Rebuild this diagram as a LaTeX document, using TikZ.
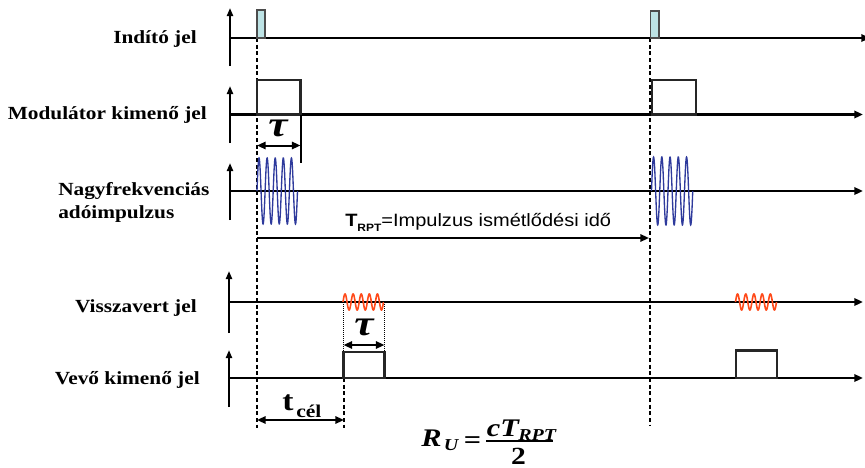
\documentclass[tikz,border=0pt]{standalone}
\usepackage{fontspec}
\setmainfont{Liberation Serif}
\newfontfamily\lblfont[FakeStretch=1.15]{Liberation Serif}
\newfontfamily\ssfont[FakeStretch=1.12]{Liberation Sans}
\newfontfamily\mfont[FakeStretch=1.2]{Liberation Serif}
\usetikzlibrary{arrows.meta}
\definecolor{pulsecyan}{HTML}{BDE3E5}
\definecolor{wblue}{HTML}{2E3A9C}
\definecolor{wred}{HTML}{FF4A1A}
\begin{document}
\begin{tikzpicture}[x=0.75pt,y=-0.75pt,
  vax/.style={line width=1.8pt,-{Triangle[length=6pt,width=4.5pt]}},
  hax/.style={line width=1.7pt,-{Triangle[length=6.5pt,width=5.5pt]}},
  dimarrow/.style={line width=1.5pt,{Triangle[length=6.5pt,width=5.5pt]}-{Triangle[length=6.5pt,width=5.5pt]}},
  onearrow/.style={line width=1.5pt,-{Triangle[length=6.5pt,width=5.5pt]}},
  pulsebox/.style={draw=black!70,fill=pulsecyan,line width=1.1pt},
  sigbox/.style={draw=black!85,line width=1.6pt},
  dashline/.style={line width=1.3pt,dash pattern=on 3pt off 2pt},
  dotline/.style={line width=0.7pt,dash pattern=on 0.7pt off 0.8pt},
  bluewave/.style={wblue,line width=1pt},
  redwave/.style={wred,line width=1.2pt},
  lbl/.style={font=\lblfont\bfseries\fontsize{13.9pt}{16.5pt}\selectfont,inner sep=0pt},
  taulbl/.style={font=\mfont\bfseries\itshape\fontsize{27pt}{30pt}\selectfont,inner sep=0pt},
  fbig/.style={font=\mfont\bfseries\itshape\fontsize{19pt}{22pt}\selectfont,inner sep=0pt},
  fsmall/.style={font=\mfont\bfseries\itshape\fontsize{12.5pt}{15pt}\selectfont,inner sep=0pt}
]
\useasboundingbox (0,0) rectangle (865,468);

% ---- dashed time markers
\draw[dashline] (257,38) -- (257,428);
\draw[dashline] (650,38) -- (650,425);
\draw[dashline] (344,378) -- (344,428);

% ---- row 1: Indito jel
\node[lbl,anchor=base east] (l1) at (197,43) {Indító jel};
\draw[vax] (230,66) -- (230,8);
\draw[hax] (230,38) -- (870,38);
\draw[pulsebox] (257,38) rectangle (265,10);
\draw[pulsebox] (650.5,38) rectangle (659,11);

% ---- row 2: Modulator
\node[lbl,anchor=base east] (l2) at (207,119) {Modulátor kimenő jel};
\draw[vax] (230,143) -- (230,86);
\draw[hax] (230,114.5) -- (863,114.5);
\draw[sigbox] (257,114.5) rectangle (300.5,80);
\draw[sigbox] (652,114.5) rectangle (696,80);
\draw[line width=1.5pt] (300.5,114.5) -- (300.5,163);
\draw[dimarrow] (257,145.5) -- (300.5,145.5);
\node[taulbl] (tau1) at (278,128.5) {τ};

% ---- row 3: Nagyfrekvencias adoimpulzus
\node[lbl,anchor=base west] (l3a) at (58,195) {Nagyfrekvenciás};
\node[lbl,anchor=base west] (l3b) at (58,218) {adóimpulzus};
\draw[vax] (230,220) -- (230,163);
\draw[hax] (230,191) -- (863,191);
\draw[bluewave] plot[domain=0:5,samples=240,smooth] ({257+8.1*\x},{191-33*sin(360*\x)});
\draw[bluewave] plot[domain=0:5,samples=240,smooth] ({651.5+8.25*\x},{191-34*sin(360*\x)});

% ---- T_RPT
\draw[onearrow] (257,238) -- (649,238);
\node[anchor=base west,inner sep=0pt] (trpt) at (345,226)
  {\ssfont\fontsize{13.4pt}{15pt}\selectfont\bfseries T\raisebox{-4.2pt}{\fontsize{8pt}{9pt}\selectfont RPT}\mdseries=Impulzus ismétlődési idő};

% ---- row 4: Visszavert jel
\node[lbl,anchor=base east] (l4) at (197,312) {Visszavert jel};
\draw[vax] (229,333) -- (229,271);
\draw[hax] (229,302) -- (863,302);
\draw[redwave] plot[domain=0:5,samples=240,smooth] ({343+8.1*\x},{302-8*sin(360*\x)});
\draw[redwave] plot[domain=0:5,samples=240,smooth] ({735.5+8.2*\x},{302-8*sin(360*\x)});
\draw[dotline] (343.5,302) -- (343.5,378);
\draw[dotline] (384.5,302) -- (384.5,378);
\draw[dimarrow] (343.5,345) -- (384.5,345);
\node[taulbl] (tau2) at (364,327.5) {τ};

% ---- row 5: Vevo kimeno jel
\node[lbl,anchor=base east] (l5) at (200,384) {Vevő kimenő jel};
\draw[vax] (229,407) -- (229,350);
\draw[hax] (229,378) -- (863,378);
\draw[sigbox] (343.5,378) rectangle (384.5,352);
\draw[sigbox] (736,378) rectangle (777,350.5);

% ---- t_cel
\draw[dimarrow] (257,420) -- (344,420);
\node[anchor=base west,inner sep=0pt,font=\mfont\bfseries\fontsize{21pt}{24pt}\selectfont] (tcel) at (282,410) {t};
\node[anchor=base west,inner sep=0pt,font=\mfont\bfseries\fontsize{13.5pt}{16pt}\selectfont] (tcelsub) at (296,417) {cél};

% ---- formula
\node[fbig,anchor=base west] (fR) at (421,446.7) {R};
\node[fsmall,anchor=base west] (fU) at (443.5,450) {U};
\node[inner sep=0pt,font=\mfont\bfseries\fontsize{19pt}{22pt}\selectfont] (feq) at (472.5,442.5) {=};
\node[fbig,anchor=base west] (fnum) at (486.5,436.7) {cT};
\node[fsmall,anchor=base west] (fsub) at (518,440) {RPT};
\draw[line width=1.4pt] (486,440.7) -- (553,440.7);
\node[anchor=base,inner sep=0pt,font=\mfont\bfseries\fontsize{18.5pt}{22pt}\selectfont] (fden) at (518.5,464.5) {2};
\end{tikzpicture}
\end{document}
